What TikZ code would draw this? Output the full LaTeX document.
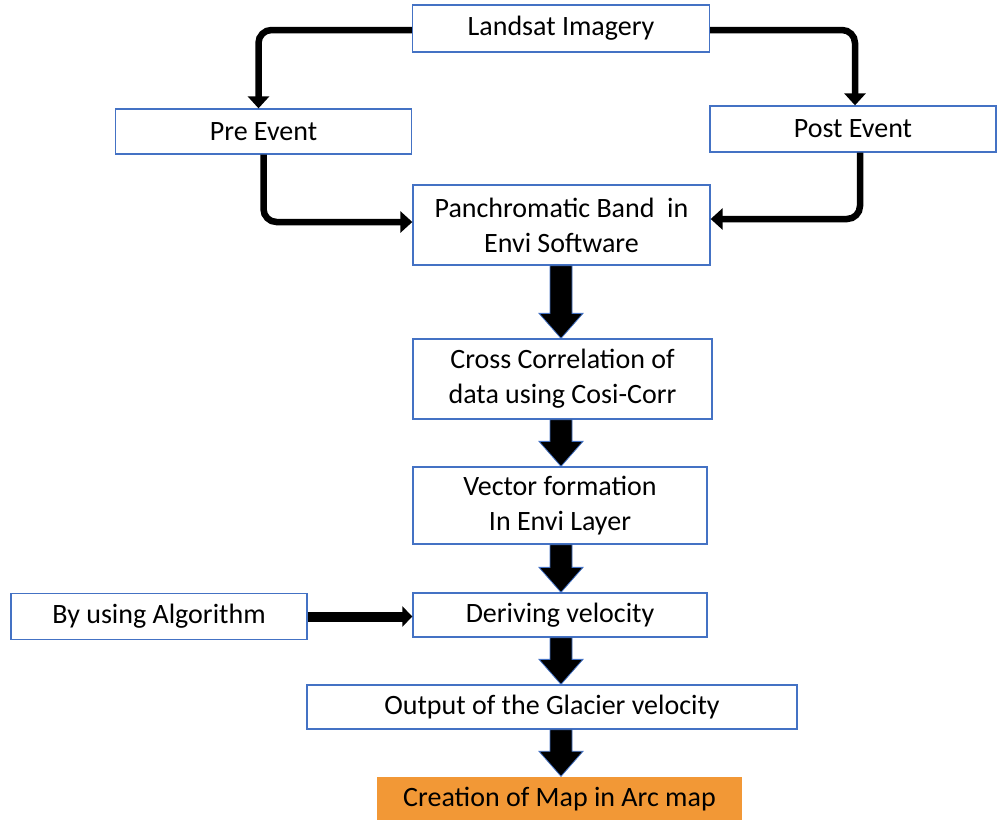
\documentclass[tikz,border=0pt]{standalone}
\usepackage{fontspec}
\setmainfont{Carlito}
\usetikzlibrary{arrows.meta,calc}
\definecolor{boxblue}{RGB}{68,114,196}
\definecolor{boxorange}{RGB}{242,152,54}
\newcommand\blockarr[2]{%
  \path[blockstyle] let \p1=(#1.south), \p2=(#2.north) in
    (550pt,\y1) -- (572pt,\y1) -- (572pt,\y2+25pt) -- (583pt,\y2+25pt)
    -- (561pt,\y2) -- (539pt,\y2+25pt) -- (550pt,\y2+25pt) -- cycle;}
\begin{document}
\begin{tikzpicture}[x=1pt,y=-1pt,
  box/.style={draw=boxblue,line width=1.3pt,fill=white,inner sep=0pt,align=center,
    font=\fontsize{28}{35}\selectfont},
  orangebox/.style={fill=boxorange,inner sep=0pt,align=center,
    font=\fontsize{28}{35}\selectfont},
  thinarrow/.style={line width=6.5pt,rounded corners=13pt,
    -{Triangle[width=21pt,length=12pt]}},
  thickarrow/.style={line width=10pt,-{Triangle[width=20pt,length=10pt]}},
  blockstyle/.style={fill=black,draw=boxblue,line width=0.8pt,line join=miter}]
\useasboundingbox (0,0) rectangle (997,820);
\node[box,minimum width=297pt,minimum height=47pt] (land) at (561,28.5) {Landsat Imagery};
\node[box,minimum width=296pt,minimum height=45pt] (pre) at (263.5,131.5) {Pre Event};
\node[box,minimum width=286pt,minimum height=46pt] (post) at (853,129) {Post Event};
\node[box,minimum width=297pt,minimum height=80pt] (pan) at (561.5,225) {Panchromatic Band~ in\\Envi Software};
\node[box,minimum width=299pt,minimum height=80pt] (cross) at (562.5,379) {Cross Correlation of\\data using Cosi-Corr};
\node[box,minimum width=294pt,minimum height=77pt] (vec) at (560,505.5) {Vector formation\\ In Envi Layer};
\node[box,minimum width=294pt,minimum height=44pt] (der) at (560,615) {Deriving velocity};
\node[box,minimum width=296pt,minimum height=46pt] (alg) at (159,616.5) {By using Algorithm};
\node[box,minimum width=490pt,minimum height=44pt] (out) at (552,707) {Output of the Glacier velocity};
\node[orangebox,minimum width=365pt,minimum height=45pt] (cre) at (559.5,799) {Creation of Map in Arc map};
% thin connectors
\draw[thinarrow] ([yshift=-1.5pt]land.west) -| ([xshift=-5pt]pre.north);
\draw[thinarrow] ([yshift=-1.5pt]land.east) -| ([xshift=2pt]post.north);
\draw[thinarrow] (pre.south) |- ([yshift=3pt]pan.west);
\draw[thinarrow] ([xshift=7pt]post.south) |- ([yshift=6pt]pan.east);
\draw[thickarrow] (alg.east) -- (alg.east -| der.west);
% block arrows
\blockarr{pan}{cross}
\blockarr{cross}{vec}
\blockarr{vec}{der}
\blockarr{der}{out}
\blockarr{out}{cre}
\end{tikzpicture}
\end{document}
